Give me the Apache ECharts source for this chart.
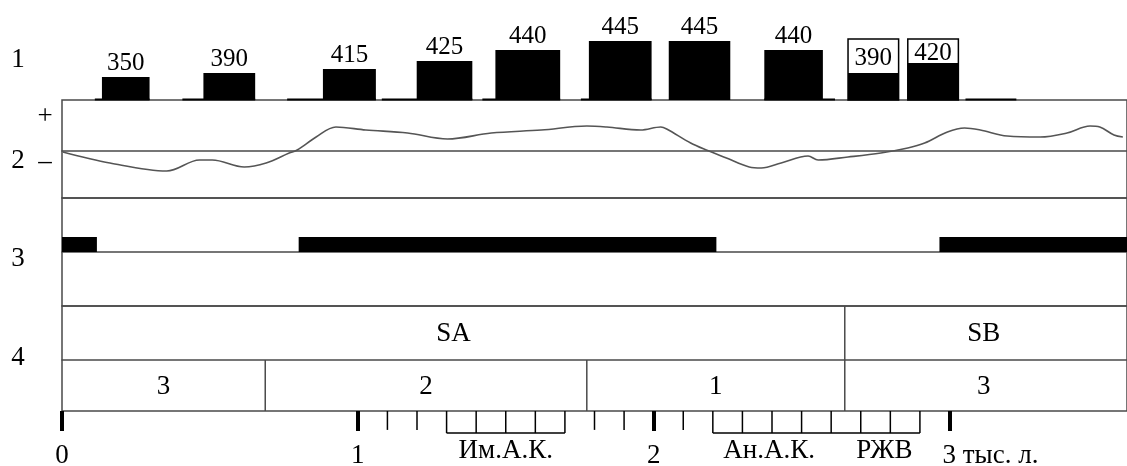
<!DOCTYPE html>
<html><head><meta charset="utf-8">
<script src="https://cdn.jsdelivr.net/npm/echarts@6/dist/echarts.min.js"></script>
<style>html,body{margin:0;padding:0;background:#fff}#c{width:1127px;height:466px}</style>
</head><body><div id="c"></div>
<script>
// ---- Panel 1: bars (time in thousand years; relative bar heights; values) ----
const barStart  = [0.135, 0.478, 0.882, 1.199, 1.465, 1.781, 2.051, 2.374, 2.657, 2.859];
const barEnd    = [0.296, 0.653, 1.061, 1.387, 1.684, 1.993, 2.259, 2.572, 2.828, 3.030];
const barHeight = [23, 27, 31, 39, 50, 59, 59, 50, 27, 37];
const barLabel  = [350, 390, 415, 425, 440, 445, 445, 440, 390, 420];
const boxHeight = [0, 0, 0, 0, 0, 0, 0, 0, 61, 61];
const baseStart = [0.111, 0.407, 0.761, 1.081, 1.421, 1.754, 2.374, 3.054];
const baseEnd   = [0.296, 0.653, 1.061, 1.387, 1.684, 1.993, 2.613, 3.226];

// ---- Panel 2: anomaly curve ----
const curveT = [0.003,0.162,0.354,0.465,0.508,0.616,0.690,0.768,0.795,0.859,0.926,1.027,1.168,1.303,1.451,1.620,1.774,1.842,1.956,2.024,2.044,2.125,2.178,2.246,2.323,2.364,2.431,2.522,2.556,2.657,2.768,2.859,2.916,2.993,3.051,3.104,3.195,3.306,3.397,3.475,3.508,3.556,3.586];
const curveV = [-0.05,-0.6,-1.0,-0.45,-0.45,-0.8,-0.6,-0.1,0.05,0.7,1.2,1.05,0.9,0.6,0.9,1.05,1.25,1.2,1.05,1.2,1.1,0.4,0.05,-0.35,-0.8,-0.85,-0.6,-0.25,-0.45,-0.3,-0.1,0.15,0.4,0.95,1.15,1.05,0.75,0.7,0.9,1.25,1.2,0.8,0.7];

// ---- Panel 3: intervals ----
const p3Start = [0, 0.80, 2.966];
const p3End   = [0.118, 2.212, 3.6];

// ---- Panel 4: periods ----
const upperLabels = ['SA', 'SB'];
const upperStart  = [0, 2.646];
const upperEnd    = [2.646, 3.586];
const lowerLabels = ['3', '2', '1', '3'];
const lowerStart  = [0, 0.687, 1.774, 2.646];
const lowerEnd    = [0.687, 1.774, 2.646, 3.586];

// ---- Time scale ----
const minorTicks  = [1.1, 1.2, 1.8, 1.9, 2.1];
const scaleBoxStart = [1.3, 2.2];
const scaleBoxEnd   = [1.7, 2.9];
const scaleLabelT    = [1.5, 2.39, 2.78];
const scaleLabelText = ['Им.А.К.', 'Ан.А.К.', 'РЖВ'];
const tickLabels = {0: '0', 1: '1', 2: '2', 3: '{u|3 тыс. л.}'};

const T_MAX = 3.6;
const SERIF = 'Liberation Serif';
const LINE = '#4a4a4a';
const W = T_MAX * 297;

const chart = echarts.init(document.getElementById('c'));

const gridBase = {left: 62, width: W, backgroundColor: 'transparent', borderColor: LINE, borderWidth: 1.5};
const grids = [
  Object.assign({}, gridBase, {top: 0, height: 100, show: false}),
  Object.assign({}, gridBase, {top: 100, height: 98, show: true}),
  Object.assign({}, gridBase, {top: 198, height: 108, show: true}),
  Object.assign({}, gridBase, {top: 306, height: 105, show: true}),
  Object.assign({}, gridBase, {top: 411, height: 30, show: false})
];
const lineAxis = i => ({
  type: 'value', gridIndex: i, min: 0, max: T_MAX,
  axisLine: {show: true, onZero: true, lineStyle: {color: LINE, width: 1.5}},
  axisTick: {show: false}, axisLabel: {show: false}, splitLine: {show: false}
});
const xAxes = [
  {type: 'value', gridIndex: 0, min: 0, max: T_MAX, show: false},
  lineAxis(1), lineAxis(2), lineAxis(3),
  {
    type: 'value', gridIndex: 4, min: 0, max: T_MAX, interval: 1, position: 'top',
    axisLine: {show: false},
    axisTick: {show: true, inside: true, length: 20, lineStyle: {color: '#000', width: 4}},
    splitLine: {show: false},
    axisLabel: {
      inside: true, margin: 31, fontSize: 27, fontFamily: SERIF, color: '#000', showMaxLabel: false,
      formatter: v => (tickLabels[v] !== undefined ? tickLabels[v] : ''),
      rich: {u: {fontSize: 27, fontFamily: SERIF, color: '#000', padding: [0, 0, 0, 82]}}
    }
  }
];
const yAxes = [
  {type: 'value', gridIndex: 0, min: 0, max: 100, show: false},
  {type: 'value', gridIndex: 1, min: -2.35, max: 2.55, show: false},
  {type: 'value', gridIndex: 2, min: -3.6, max: 3.6, show: false},
  {type: 'value', gridIndex: 3, min: -51, max: 54, show: false},
  {type: 'value', gridIndex: 4, min: 0, max: 30, inverse: true, show: false}
];

const txt = (x, y, t, size) => ({x: x, y: y, text: t, align: 'center', verticalAlign: 'middle', fontSize: size, fontFamily: SERIF, fill: '#000'});

const series = [
  { // bar base segments
    type: 'custom', xAxisIndex: 0, yAxisIndex: 0, z: 3,
    data: baseStart.map((s, i) => [s, baseEnd[i]]),
    encode: {x: [0, 1]},
    renderItem: (p, api) => {
      const a = api.coord([api.value(0), 0]), b = api.coord([api.value(1), 0]);
      return {type: 'line', shape: {x1: a[0], y1: a[1] - 0.5, x2: b[0], y2: b[1] - 0.5}, style: {stroke: '#000', lineWidth: 2}};
    }
  },
  { // bars
    type: 'custom', xAxisIndex: 0, yAxisIndex: 0, z: 4,
    data: barStart.map((s, i) => [s, barEnd[i], barHeight[i], barLabel[i], boxHeight[i]]),
    encode: {x: [0, 1], y: 2},
    renderItem: (p, api) => {
      const s = api.value(0), e = api.value(1), h = api.value(2), lab = api.value(3), box = api.value(4);
      const base = api.coord([s, 0]), top = api.coord([e, h]);
      const x = base[0], w = top[0] - base[0], yb = base[1], yt = top[1];
      const ch = [];
      if (box > 0) {
        const yBox = api.coord([s, box])[1];
        ch.push({type: 'rect', shape: {x: x, y: yBox, width: w, height: yb - yBox}, style: {fill: '#fff', stroke: '#000', lineWidth: 1.5}});
        ch.push({type: 'rect', shape: {x: x, y: yt, width: w, height: yb - yt}, style: {fill: '#000'}});
        ch.push({type: 'text', style: txt(x + w / 2, (yBox + yt) / 2 + 2, String(lab), 25)});
      } else {
        ch.push({type: 'rect', shape: {x: x, y: yt, width: w, height: yb - yt}, style: {fill: '#000'}});
        ch.push({type: 'text', style: txt(x + w / 2, yt - 14, String(lab), 25)});
      }
      return {type: 'group', children: ch};
    }
  },
  { // curve
    type: 'line', xAxisIndex: 1, yAxisIndex: 1, smooth: 0.35, symbol: 'none', z: 3,
    data: curveT.map((t, i) => [t, curveV[i]]),
    lineStyle: {color: '#555', width: 1.6}
  },
  { // panel 3 intervals
    type: 'custom', xAxisIndex: 2, yAxisIndex: 2, z: 3,
    data: p3Start.map((s, i) => [s, p3End[i]]),
    encode: {x: [0, 1]},
    renderItem: (p, api) => {
      const a = api.coord([api.value(0), 1]), b = api.coord([api.value(1), 0]);
      return {type: 'rect', shape: {x: a[0], y: a[1], width: b[0] - a[0], height: b[1] - a[1]}, style: {fill: '#000'}};
    }
  },
  { // panel 4 periods
    type: 'custom', xAxisIndex: 3, yAxisIndex: 3, z: 3,
    data: upperStart.map((s, i) => [s, upperEnd[i], 1, i]).concat(lowerStart.map((s, i) => [s, lowerEnd[i], 0, i])),
    encode: {x: [0, 1]},
    renderItem: (p, api) => {
      const s = api.value(0), e = api.value(1), row = api.value(2), idx = api.value(3);
      const yTop = row === 1 ? 54 : 0, yBot = row === 1 ? 0 : -51;
      const label = row === 1 ? upperLabels[idx] : lowerLabels[idx];
      const a = api.coord([s, yTop]), b = api.coord([e, yBot]);
      const ch = [{type: 'text', style: txt((a[0] + b[0]) / 2, (a[1] + b[1]) / 2 + 1, label, 27)}];
      if (s > 0) ch.push({type: 'line', shape: {x1: a[0], y1: a[1], x2: a[0], y2: b[1]}, style: {stroke: LINE, lineWidth: 1.5}});
      return {type: 'group', children: ch};
    }
  },
  { // minor ticks
    type: 'custom', xAxisIndex: 4, yAxisIndex: 4, z: 3,
    data: minorTicks.map(t => [t]),
    encode: {x: 0},
    renderItem: (p, api) => {
      const a = api.coord([api.value(0), 0]), b = api.coord([api.value(0), 21]);
      return {type: 'line', shape: {x1: a[0], y1: a[1], x2: b[0], y2: b[1]}, style: {stroke: '#000', lineWidth: 1.5}};
    }
  },
  { // boxes on scale
    type: 'custom', xAxisIndex: 4, yAxisIndex: 4, z: 3,
    data: scaleBoxStart.map((s, i) => [s, scaleBoxEnd[i]]),
    encode: {x: [0, 1]},
    renderItem: (p, api) => {
      const s = api.value(0), e = api.value(1);
      const n = Math.round((e - s) / 0.1);
      const ch = [];
      const a = api.coord([s, 24.5]), b = api.coord([e, 24.5]);
      ch.push({type: 'line', shape: {x1: a[0], y1: a[1], x2: b[0], y2: b[1]}, style: {stroke: '#000', lineWidth: 1.5}});
      for (let k = 0; k <= n; k++) {
        const t = s + (e - s) * k / n;
        const c0 = api.coord([t, 0]), c1 = api.coord([t, 24.5]);
        ch.push({type: 'line', shape: {x1: c0[0], y1: c0[1], x2: c1[0], y2: c1[1]}, style: {stroke: '#000', lineWidth: 1.5}});
      }
      return {type: 'group', children: ch};
    }
  },
  { // scale labels
    type: 'custom', xAxisIndex: 4, yAxisIndex: 4, z: 3,
    data: scaleLabelT.map((t, i) => [t, i]),
    encode: {x: 0},
    renderItem: (p, api) => {
      const c = api.coord([api.value(0), 44]);
      return {type: 'text', style: txt(c[0], c[1], scaleLabelText[api.value(1)], 27)};
    }
  }
];

chart.setOption({
  animation: false,
  backgroundColor: '#fff',
  grid: grids,
  xAxis: xAxes,
  yAxis: yAxes,
  series: series,
  graphic: [
    {type: 'text', style: txt(18, 60, '1', 27)},
    {type: 'text', style: txt(45, 117, '+', 27)},
    {type: 'text', style: txt(18, 161, '2', 27)},
    {type: 'text', style: txt(45, 162, '–', 27)},
    {type: 'text', style: txt(18, 259, '3', 27)},
    {type: 'text', style: txt(18, 358, '4', 27)}
  ]
});
</script></body></html>
